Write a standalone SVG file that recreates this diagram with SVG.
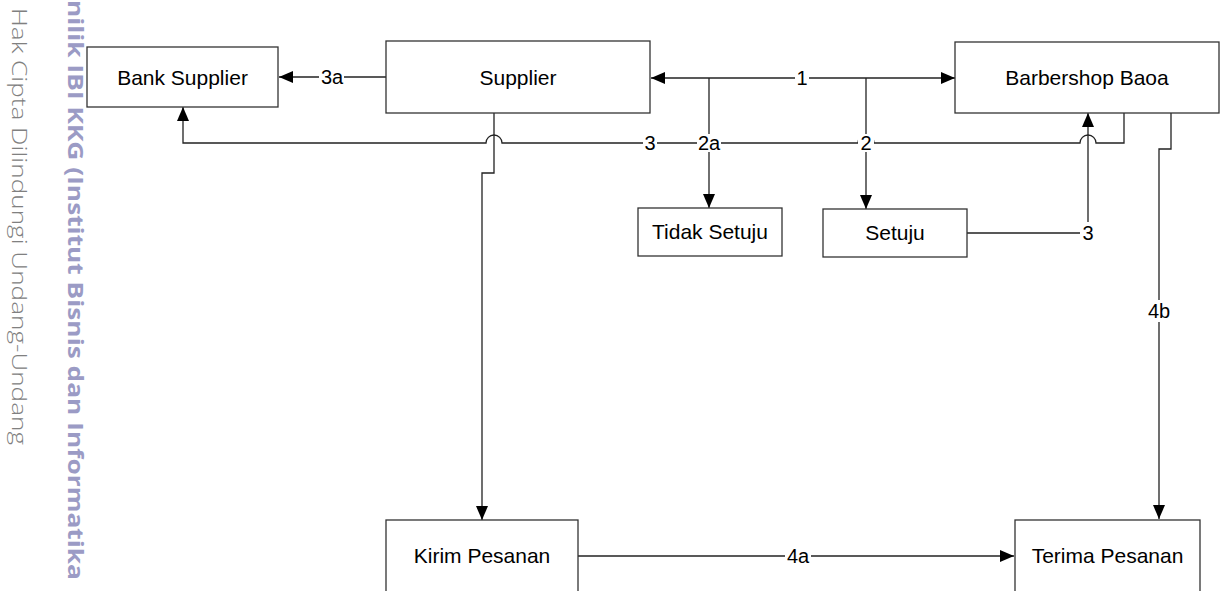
<svg xmlns="http://www.w3.org/2000/svg" width="1222" height="591" viewBox="0 0 1222 591">
<style>
.box{fill:#fff;stroke:#333;stroke-width:1.3}
.nt{font-family:"Liberation Sans",Arial,sans-serif;font-size:21px;fill:#000;text-anchor:middle}
.ln{fill:none;stroke:#222;stroke-width:1.3}
.lb{font-family:"Liberation Sans",Arial,sans-serif;font-size:20px;fill:#000;text-anchor:middle}
.lbg{fill:#fff}
</style>
<defs>
<marker id="ah" markerUnits="userSpaceOnUse" markerWidth="14" markerHeight="12" refX="14" refY="6" orient="auto-start-reverse">
<path d="M0,0 L14,6 L0,12 z" fill="#000"/>
</marker>
</defs>
<rect width="1222" height="591" fill="#fff"/>
<g id="watermark">
<text transform="translate(12,8) rotate(90)" font-family="'Open Sans',sans-serif" font-weight="300" font-size="21" fill="#808080" textLength="437" lengthAdjust="spacingAndGlyphs">Hak Cipta Dilindungi Undang-Undang</text>
<text transform="translate(68,0) rotate(90)" font-family="'Open Sans',sans-serif" font-weight="700" font-size="21" fill="#9b9bc5" textLength="580" lengthAdjust="spacingAndGlyphs">nilik IBI KKG (Institut Bisnis dan Informatika</text>
</g>
<g id="connectors">
<path class="ln" d="M386,77 H279" marker-end="url(#ah)"/>
<path class="ln" d="M651,78 H955" marker-start="url(#ah)" marker-end="url(#ah)"/>
<path class="ln" d="M709,78 V208" marker-end="url(#ah)"/>
<path class="ln" d="M866,78 V209" marker-end="url(#ah)"/>
<path class="ln" d="M1124,113 V143 H1096 A8 8 0 0 0 1080 143 H874 A8 8 0 0 0 858 143 H717 A8 8 0 0 0 701 143 H502 A8 8 0 0 0 486 143 H183 V107" marker-end="url(#ah)"/>
<path class="ln" d="M967,233 H1088 V113" marker-end="url(#ah)"/>
<path class="ln" d="M494,113 V173 H482 V520" marker-end="url(#ah)"/>
<path class="ln" d="M1171,113 V149 H1159 V519" marker-end="url(#ah)"/>
<path class="ln" d="M578,556 H1014" marker-end="url(#ah)"/>
<rect class="lbg" x="319" y="67" width="25" height="20"/><text class="lb" x="332" y="84">3a</text>
<rect class="lbg" x="795" y="68" width="14" height="20"/><text class="lb" x="802" y="85">1</text>
<rect class="lbg" x="697" y="134" width="24" height="18"/><text class="lb" x="709" y="150">2a</text>
<rect class="lbg" x="858" y="134" width="16" height="18"/><text class="lb" x="866" y="150">2</text>
<rect class="lbg" x="643" y="134" width="14" height="18"/><text class="lb" x="650" y="150">3</text>
<rect class="lbg" x="1080" y="222" width="16" height="20"/><text class="lb" x="1088" y="240">3</text>
<rect class="lbg" x="1147" y="300" width="24" height="22"/><text class="lb" x="1159" y="318">4b</text>
<rect class="lbg" x="785" y="546" width="26" height="20"/><text class="lb" x="798" y="563">4a</text>
</g>
<g id="bank-supplier"><rect class="box" x="87" y="47" width="191" height="60"/><text class="nt" x="182.5" y="84.5">Bank Supplier</text></g>
<g id="supplier"><rect class="box" x="386" y="41" width="264" height="72"/><text class="nt" x="518" y="84.5">Supplier</text></g>
<g id="barbershop-baoa"><rect class="box" x="955" y="42" width="264" height="71"/><text class="nt" x="1087" y="84.5">Barbershop Baoa</text></g>
<g id="tidak-setuju"><rect class="box" x="638" y="208" width="144" height="48"/><text class="nt" x="710" y="239">Tidak Setuju</text></g>
<g id="setuju"><rect class="box" x="823" y="209" width="144" height="48"/><text class="nt" x="895" y="240">Setuju</text></g>
<g id="kirim-pesanan"><rect class="box" x="386" y="520" width="192" height="90"/><text class="nt" x="482" y="563">Kirim Pesanan</text></g>
<g id="terima-pesanan"><rect class="box" x="1015" y="520" width="185" height="90"/><text class="nt" x="1107.5" y="563">Terima Pesanan</text></g>
</svg>
